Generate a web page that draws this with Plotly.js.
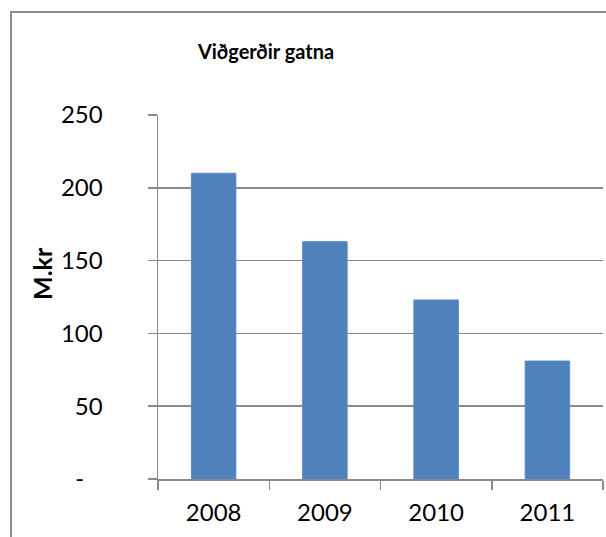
<!DOCTYPE html>
<html>
<head>
<meta charset="utf-8">
<script src="https://cdn.plot.ly/plotly-3.0.1.min.js"></script>
<style>
  html, body { margin: 0; padding: 0; background: #ffffff; overflow: hidden; }
  #frame { position: absolute; left: 10px; top: 11px; width: 700px; height: 700px; border: 2px solid #8c8c8c; box-sizing: border-box; }
  #chart { position: absolute; left: 0; top: 0; width: 606px; height: 537px; }
</style>
</head>
<body>
<div id="frame"></div>
<div id="chart"></div>
<script>
const years = ["2008", "2009", "2010", "2011"];
const values = [210, 163, 123, 81];
const yTickVals = [0, 50, 100, 150, 200, 250];
const yTickText = ["-\u00a0\u00a0\u00a0", "50", "100", "150", "200", "250"];
const chartTitle = "Viðgerðir gatna";
const yTitle = "M.kr";

const fontFam = "Lato, 'Open Sans', sans-serif";

const trace = {
  type: "bar",
  x: years,
  y: values,
  marker: { color: "#4F81BD", line: { color: "#5b8bc4", width: 1 } },
  hoverinfo: "x+y"
};

const L = 158, R = 3, T = 115, B = 58;
const W = 606, H = 537;
const pw = W - L - R, ph = H - T - B;

const layout = {
  width: W, height: H,
  paper_bgcolor: "rgba(0,0,0,0)",
  plot_bgcolor: "rgba(0,0,0,0)",
  margin: { l: L, r: R, t: T, b: B, pad: 0 },
  showlegend: false,
  bargap: 0.6,
  font: { family: fontFam, size: 24, color: "#000000" },
  title: {
    text: "<b>" + chartTitle + "</b>",
    font: { family: fontFam, size: 20, color: "#000000" },
    xref: "container", yref: "container",
    x: 266 / W, y: 1 - 52 / H,
    xanchor: "center", yanchor: "middle"
  },
  xaxis: {
    type: "category",
    showline: true, linecolor: "#8a8a8a", linewidth: 1.5,
    ticks: "outside", tickson: "boundaries", ticklen: 9, tickcolor: "#8a8a8a", tickwidth: 1.5,
    tickfont: { family: fontFam, size: 24, color: "#000000" },
    ticklabelstandoff: 12,
    showgrid: false, zeroline: false,
    fixedrange: true
  },
  yaxis: {
    range: [0, 250],
    tickvals: yTickVals, ticktext: yTickText,
    showline: true, linecolor: "#8a8a8a", linewidth: 1.5,
    ticks: "outside", ticklen: 9, tickcolor: "#8a8a8a", tickwidth: 1.5,
    showgrid: true, gridcolor: "#8a8a8a", gridwidth: 1.5,
    zeroline: false,
    tickfont: { family: fontFam, size: 24, color: "#000000" },
    ticklabelstandoff: 40,
    fixedrange: true
  },
  annotations: [{
    text: "<b>" + yTitle + "</b>",
    textangle: -90,
    xref: "paper", yref: "paper",
    x: (42 - L) / pw, y: (H - B - 274) / ph,
    xanchor: "center", yanchor: "middle",
    showarrow: false,
    font: { family: fontFam, size: 25, color: "#000000" }
  }]
};

Plotly.newPlot("chart", [trace], layout, { displayModeBar: false, staticPlot: true });
</script>
</body>
</html>
